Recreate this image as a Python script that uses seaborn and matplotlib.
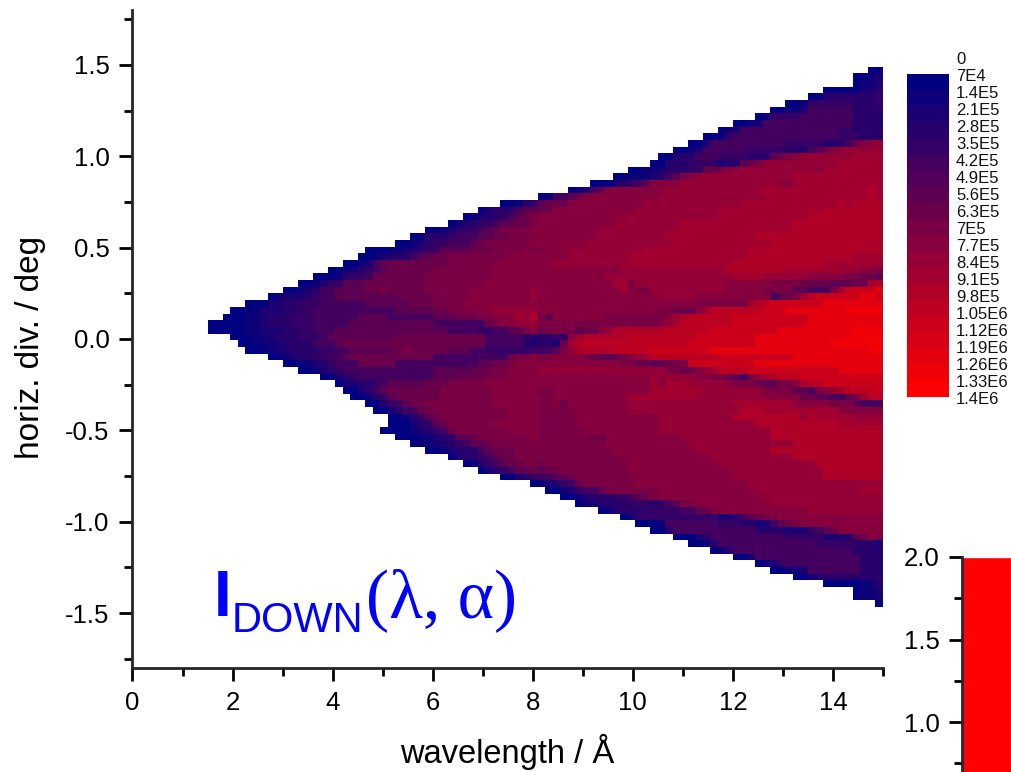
import pandas as pd
import matplotlib
matplotlib.use('Agg')
import matplotlib.pyplot as plt
import seaborn as sns
import numpy as np
from matplotlib.ticker import MultipleLocator

# scale labels on the right (0 to 1.4E6, steps of 7E4)
scale_labels = ['0', '7E4', '1.4E5', '2.1E5', '2.8E5', '3.5E5', '4.2E5', '4.9E5', '5.6E5', '6.3E5', '7E5',
                '7.7E5', '8.4E5', '9.1E5', '9.8E5', '1.05E6', '1.12E6', '1.19E6', '1.26E6', '1.33E6', '1.4E6']
step = 70000

# wavelength/divergence bins
n_wave = 90
wave_start = 1.5
wave_step = 0.15
div_top = 1.49
div_step = 0.0365

# colour band read for each cell, top row to bottom row, rows end at 15 A
band_of_code = {'0': 0, '1': 1, '2': 2, '3': 3, '4': 4, '5': 5, '6': 7, '7': 8, '8': 9, '9': 10,
                'a': 11, 'b': 12, 'c': 13, 'd': 14, 'e': 15, 'f': 17, 'g': 18, 'i': 19}
cell_rows = [
    "00", "0112", "0112", "00000223", "0033333334", "0014444443334",
    "00112" + "5"*6 + "3333",
    "01" + "4444" + "5"*7 + "3333",
    "0012" + "5"*12 + "3333",
    "012" + "5"*13 + "44" + "3333",
    "0014" + "5"*14 + "444333",
    "002" + "5"*10 + "44444333" + "5789a",
    "0012" + "5"*6 + "44444333" + "5679" + "a"*6,
    "00333555" + "4444333" + "6789" + "a"*7 + "bbbb",
    "00" + "3334444" + "233678" + "a"*10 + "b"*6,
    "00112333447789" + "a"*11 + "9" + "b"*8,
    "00111235689" + "a"*13 + "b"*12,
    "000234569999" + "a"*13 + "99" + "b"*12,
    "01256" + "9"*8 + "a"*12 + "b"*15 + "cb",
    "01556" + "7" + "9"*10 + "a"*14 + "b"*14 + "cb",
    "001346777" + "9"*10 + "a"*13 + "b"*13 + "cbcccc",
    "0233456677" + "9"*11 + "a"*11 + "b"*12 + "cb" + "c"*8,
    "01233456" + "78" + "9"*11 + "a"*13 + "b"*12 + "c"*10,
    "012344566778" + "9"*10 + "a"*9 + "b"*15 + "c"*12,
    "001234456788889" + "9"*8 + "a"*10 + "b"*16 + "c"*12,
    "0133345556677888" + "9"*9 + "a"*9 + "b"*12 + "c"*17,
    "001234455567" + "888888" + "9"*7 + "a"*12 + "b"*13 + "c"*15,
    "000112234566667778888" + "9" + "88999" + "a"*10 + "b"*14 + "c"*18,
    "00" + "12233" + "56677" + "8"*8 + "9"*8 + "a"*8 + "b"*16 + "c"*14 + "bbbb",
    "001256" + "7"*8 + "8"*6 + "9"*8 + "a"*10 + "b"*14 + "c"*12 + "b"*8,
    "00123456" + "7"*6 + "8"*8 + "9"*17 + "a"*14 + "c"*8 + "b"*8 + "aa998",
    "00013445" + "7"*7 + "8"*9 + "9"*15 + "a"*17 + "bbbb" + "a"*6 + "9"*5 + "88776",
    "001244" + "66677777777" + "8"*8 + "9"*17 + "bb8" + "a"*12 + "9"*6 + "8888" + "7777" + "666" + "77bc",
    "00123556" + "66677877777" + "8"*6 + "9"*8 + "a" + "9"*11 + "b988" + "a"*10 + "9"*5 + "8888" + "66555" + "8b" + "eeeef",
    "0122234" + "5566666" + "66677777" + "8"*5 + "9"*8 + "a" + "9"*16 + "a"*5 + "9"*10 + "5678bd" + "eeeeeeffe",
    "0002233444" + "5"*6 + "6"*6 + "777" + "8888" + "9"*31 + "8"*7 + "bcde" + "e"*6 + "f"*8,
    "000122233445" + "5"*10 + "6"*5 + "77" + "8888" + "99" + "a"*6 + "9"*16 + "887779bd" + "d"*6 + "eee" + "f"*8 + "g"*5,
    "000112333444" + "5"*6 + "6666" + "5"*6 + "666777" + "88999" + "bac" + "86" + "9"*7 + "8"*7 + "89bc" + "d"*6 + "e"*10 + "f"*10,
    "00000112333444" + "5"*5 + "6"*11 + "5"*7 + "789" + "9aaa" + "8"*16 + "9ab" + "d"*7 + "e"*10 + "f"*10,
    "00000112223344555" + "6"*15 + "5555" + "44" + "5566" + "89" + "78888677" + "9a" + "c"*7 + "d"*6 + "e"*9 + "f"*10 + "gggg",
    "000112333444566" + "6"*7 + "7"*12 + "555" + "5543" + "3344" + "9b" + "c"*6 + "d"*9 + "e"*8 + "f"*12 + "g"*5,
    "0001123333" + "5556" + "7"*19 + "5555" + "532" + "332" + "7bc" + "d"*14 + "e"*9 + "f"*10 + "g"*7,
    "000122" + "3333445" + "5" + "6"*6 + "7877777" + "66655" + "4444445" + "5568ab" + "cccc" + "ddddd" + "e"*8 + "f"*11 + "f"*10 + "gg",
    "0012334" + "4556" + "7"*11 + "5"*10 + "7889" + "889999" + "87666" + "89ab" + "d"*9 + "e"*10 + "f"*12,
    "00112345" + "55" + "7"*5 + "5"*11 + "66778" + "999" + "9"*11 + "88776" + "6788" + "e"*9 + "f"*17,
    "001234" + "5"*12 + "6"*6 + "7788" + "9999" + "a"*17 + "8877" + "9ab" + "dddd" + "e"*12 + "f"*6,
    "00234" + "5"*10 + "6667777" + "888" + "9999" + "9"*15 + "a"*6 + "9988" + "765" + "8ab" + "cddd" + "e"*11,
    "02233456" + "6666" + "777" + "88888" + "9"*22 + "b9bbb" + "a"*5 + "9888" + "766" + "889" + "cdd" + "e"*8,
    "0023567" + "7"*6 + "8"*7 + "9"*6 + "88" + "9"*13 + "b"*7 + "a"*8 + "8888" + "665" + "89ab" + "dddde",
    "001346" + "7"*6 + "8"*7 + "9"*6 + "88" + "9"*10 + "b"*9 + "a"*9 + "9"*5 + "7766" + "556" + "8bdd",
    "0034" + "5677" + "8"*9 + "9"*6 + "88" + "97" + "9"*8 + "a"*14 + "b"*8 + "9"*5 + "888" + "6555",
    "00235577" + "8"*10 + "9"*4 + "8"*5 + "9"*7 + "a"*15 + "cccb" + "b"*9 + "9"*6,
    "0013467" + "8"*9 + "9"*4 + "8"*5 + "9"*11 + "a"*10 + "c"*9 + "ac" + "b"*5 + "aaaa",
    "00023467" + "8"*6 + "9"*6 + "8"*5 + "9"*11 + "a"*13 + "c"*11 + "b"*6,
    "000012345" + "78" + "8"*6 + "9"*4 + "8"*6 + "9"*10 + "a"*15 + "c"*15,
    "000112346" + "67" + "8"*7 + "9" + "8"*7 + "77" + "9"*10 + "a"*12 + "c"*15,
    "0" + "112234" + "5667" + "8"*6 + "8"*9 + "9"*11 + "a"*14 + "c"*12,
    "0012333" + "56" + "777888" + "8"*10 + "9"*11 + "a"*10 + "c"*15,
    "02334" + "56" + "77888" + "8"*11 + "9"*12 + "a"*11 + "c"*12,
    "013456" + "7788" + "7" + "8"*11 + "9"*12 + "a"*13 + "c"*9,
    "02345667" + "677" + "8"*9 + "9"*14 + "a"*12 + "c"*8,
    "00234" + "5566" + "7" + "8"*8 + "9"*13 + "a"*12 + "c"*8,
    "012345" + "7" + "8"*7 + "9"*15 + "a"*18,
    "0012" + "4556" + "8"*7 + "9"*13 + "a"*13 + "abbb",
    "0012" + "33344" + "5678" + "9"*14 + "a"*16,
    "012333344" + "434" + "56" + "88" + "9"*10 + "a"*15,
    "01" + "33334444" + "4556" + "789" + "9"*11 + "a"*10,
    "01" + "4"*11 + "22356" + "788999" + "9"*11,
    "0001" + "5"*7 + "44433" + "22567" + "89" + "9"*10,
    "003" + "5"*11 + "3333" + "222" + "4567" + "9"*6,
    "00023" + "5"*10 + "44444" + "2223" + "6798",
    "0013" + "5"*13 + "44444" + "3332",
    "013" + "5"*16 + "3333",
    "002" + "5"*14 + "333",
    "0124" + "5"*10 + "333",
    "00112" + "5"*7 + "333",
    "002233333333", "00000113", "0112", "0112", "0",
]

# height of the small red bar cut off at the lower right
bar_values = [2.0]

# turning the rows into a table, empty cells stay NaN
table = np.full((len(cell_rows), n_wave), np.nan)
for i, row in enumerate(cell_rows):
    row = row[-n_wave:]
    for j, code in enumerate(row):
        table[i, n_wave - len(row) + j] = (band_of_code[code] + 0.5) * step
df = pd.DataFrame(table)

sns.set_style('ticks')
plt.rcParams['font.family'] = ['Liberation Sans', 'DejaVu Sans']
plt.rcParams['axes.unicode_minus'] = False
plt.rcParams['text.color'] = '#000000'

W, H = 1012, 772
palette = sns.blend_palette(['#000080', '#ff0000'], 20)

fig = plt.figure(figsize=(W / 100, H / 100), dpi=100)
fig.patch.set_facecolor('white')

# main plot
ax = fig.add_axes([132.5 / W, 1 - 668 / H, 750.5 / W, 658 / H])
ax.set_xlim(0, 15)
ax.set_ylim(-1.8, 1.8)
hm = ax.inset_axes([wave_start, div_top - div_step * len(cell_rows), wave_step * n_wave, div_step * len(cell_rows)],
                   transform=ax.transData)
sns.heatmap(df, ax=hm, cmap=palette, vmin=0, vmax=step * 20, cbar=False, xticklabels=False, yticklabels=False)
hm.axis('off')
ax.spines['top'].set_visible(False)
ax.spines['right'].set_visible(False)
ax.spines['left'].set_linewidth(2)
ax.spines['bottom'].set_linewidth(2)
ax.xaxis.set_major_locator(MultipleLocator(2))
ax.xaxis.set_minor_locator(MultipleLocator(1))
ax.yaxis.set_major_locator(MultipleLocator(0.5))
ax.yaxis.set_minor_locator(MultipleLocator(0.25))
ax.tick_params(which='major', length=9.5, width=2, labelsize=18.5, pad=7, direction='out', color='black', labelcolor='black')
ax.tick_params(which='minor', length=5.5, width=2, direction='out', color='black')
ax.set_facecolor('white')
ax.patch.set_alpha(0)
fig.text(507 / W, 1 - 752 / H, 'wavelength / Å', fontsize=23.5, ha='center', va='center')
fig.text(31 / W, 1 - 347 / H, 'horiz. div. / deg', fontsize=24, ha='center', va='center', rotation=90)

# colour scale
cax = fig.add_axes([907 / W, 1 - 397 / H, 42 / W, 323 / H])
sns.heatmap(pd.DataFrame({'band': (np.arange(20) + 0.5) * step}), ax=cax, cmap=palette, vmin=0, vmax=step * 20,
            cbar=False, xticklabels=False, yticklabels=False)
cax.axis('off')
for i, lab in enumerate(scale_labels):
    fig.text(956 / W, 1 - (59.5 + i * 17.0) / H, lab, fontsize=12, ha='left', va='center', color='#111111')

# title inside the plot
fig.text(214 / W, 1 - 616 / H, 'I', fontsize=46, color='#0000ff', ha='left', va='baseline', fontweight='bold')
fig.text(232 / W, 1 - 632 / H, 'DOWN', fontsize=30, color='#0000ff', ha='left', va='baseline')
fig.text(366 / W, 1 - 617 / H, '(λ, α)', fontsize=50, color='#0000ff', ha='left', va='baseline',
         family=['Liberation Serif', 'DejaVu Serif'])

# the small axis cut off at the lower right
bax = fig.add_axes([962.5 / W, 0, 49.5 / W, 215 / H])
sns.barplot(x=['a'], y=bar_values, ax=bax, color='#ff0000', saturation=1, width=1)
bax.set_xlim(-0.5, 0.5)
bax.set_ylim(2.0 - 215 / 165, 2.0)
bax.set_xlabel('')
bax.set_ylabel('')
bax.set_xticks([])
bax.spines['top'].set_visible(False)
bax.spines['right'].set_visible(False)
bax.spines['bottom'].set_visible(False)
bax.spines['left'].set_linewidth(2)
bax.yaxis.set_major_locator(MultipleLocator(0.5))
bax.yaxis.set_minor_locator(MultipleLocator(0.25))
bax.tick_params(which='major', length=9.5, width=2, labelsize=18.5, pad=7, direction='out', color='black', labelcolor='black')
bax.tick_params(which='minor', length=5.5, width=2, direction='out', color='black')
bax.patch.set_alpha(0)

plt.savefig('out.png', dpi=100)
